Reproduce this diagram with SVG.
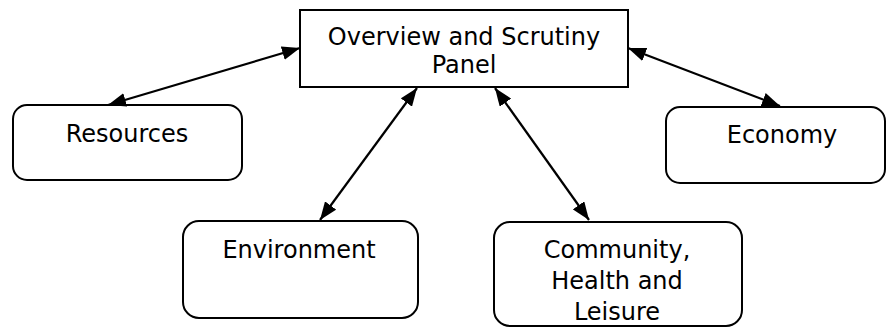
<svg xmlns="http://www.w3.org/2000/svg" width="888" height="329" viewBox="0 0 888 329">
  <style>
    .box { fill: #ffffff; stroke: #000000; stroke-width: 2; }
    .label { font-family: "DejaVu Sans", Verdana, sans-serif; font-size: 24px; fill: #000000; text-anchor: middle; }
    .link { stroke: #000000; stroke-width: 2.2; fill: none; marker-start: url(#arrow); marker-end: url(#arrow); }
  </style>
  <defs>
    <marker id="arrow" viewBox="0 0 18 14" refX="18" refY="7" markerWidth="18" markerHeight="14" markerUnits="userSpaceOnUse" orient="auto-start-reverse">
      <path d="M0,0 L18,7 L0,14 Z" fill="#000000"/>
    </marker>
  </defs>
  <rect width="888" height="329" fill="#ffffff"/>

  <g id="panel">
    <rect class="box" x="300" y="10" width="328" height="77"/>
    <text class="label" x="464" y="45">Overview and Scrutiny</text>
    <text class="label" x="464" y="73">Panel</text>
  </g>

  <g id="resources">
    <rect class="box" x="13" y="105" width="229" height="75" rx="14"/>
    <text class="label" x="127" y="142">Resources</text>
  </g>

  <g id="economy">
    <rect class="box" x="666" y="107" width="219" height="76" rx="14"/>
    <text class="label" x="782" y="143">Economy</text>
  </g>

  <g id="environment">
    <rect class="box" x="183" y="221" width="235" height="97" rx="16"/>
    <text class="label" x="299" y="258">Environment</text>
  </g>

  <g id="community">
    <rect class="box" x="494" y="222" width="248" height="104" rx="16"/>
    <text class="label" x="617" y="258">Community,</text>
    <text class="label" x="617" y="289">Health and</text>
    <text class="label" x="617" y="320">Leisure</text>
  </g>

  <g id="connectors">
    <line class="link" x1="108" y1="105" x2="300" y2="48"/>
    <line class="link" x1="320" y1="220" x2="417" y2="88"/>
    <line class="link" x1="589" y1="220" x2="495" y2="88"/>
    <line class="link" x1="780" y1="106" x2="628" y2="48"/>
  </g>
</svg>
